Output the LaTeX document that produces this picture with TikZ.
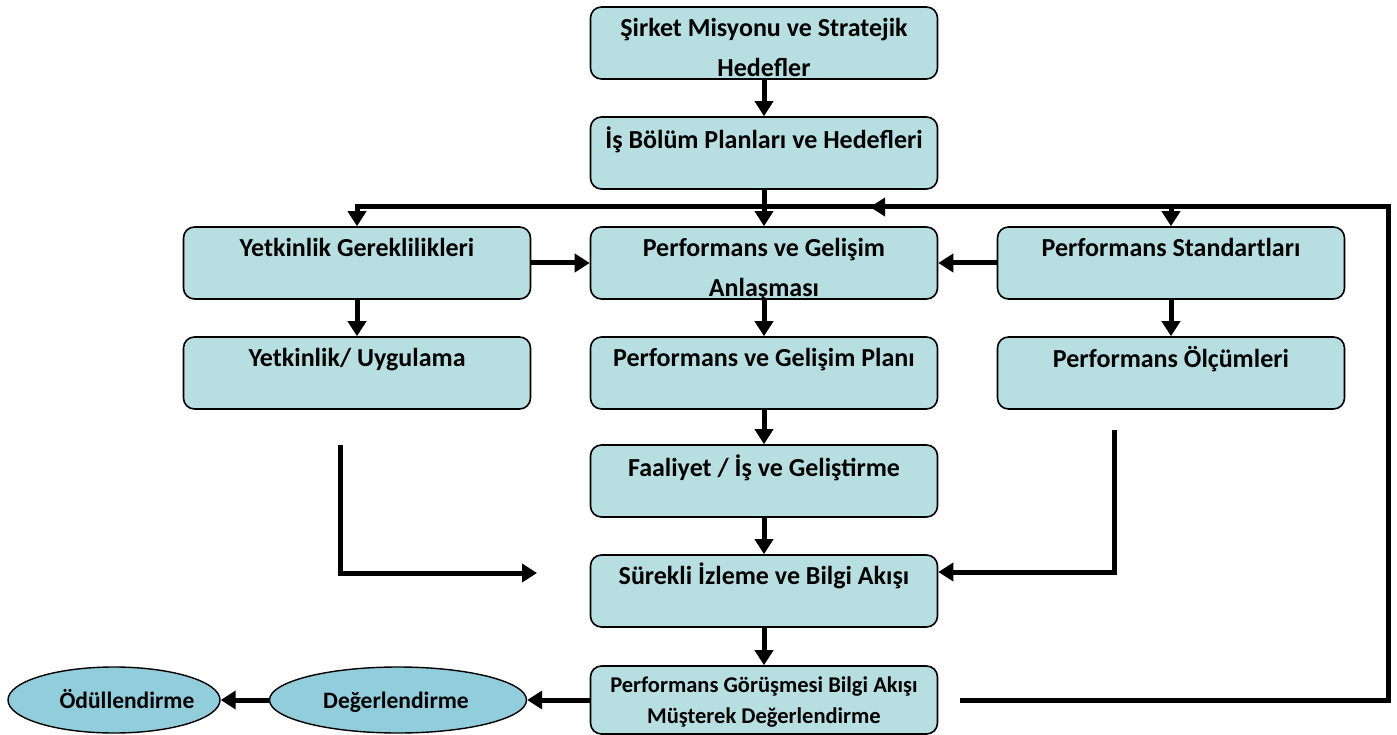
\documentclass[tikz,border=0pt]{standalone}
\usepackage{fontspec}
\setmainfont{Carlito}
\usetikzlibrary{arrows.meta,shapes.geometric,calc}
\definecolor{boxfill}{HTML}{B7DFE2}
\definecolor{ovalfill}{HTML}{92CDDC}
\tikzset{
  box/.style={draw, line width=1.6pt, rounded corners=11pt, fill=boxfill,
    minimum width=347pt, minimum height=72pt, inner sep=0pt},
  oval/.style={draw, line width=1.4pt, ellipse, fill=ovalfill, inner sep=0pt},
  ovaltxt/.style={anchor=base, inner sep=0pt,
    font=\bfseries\fontsize{23.5}{28}\selectfont},
  txt/.style={anchor=north, align=center, inner sep=0pt,
    font=\bfseries\fontsize{26}{40}\selectfont},
  smalltxt/.style={anchor=north, align=center, inner sep=0pt,
    font=\bfseries\fontsize{22.5}{31}\selectfont},
  arr/.style={line width=5pt, -{Triangle[length=15pt,width=18pt]}},
}
\begin{document}
\begin{tikzpicture}[x=1pt, y=-1pt]
\useasboundingbox (0,0) rectangle (1397,735);

% boxes (centres in picture coordinates, y growing downwards)
\node[box] (mission)  at (764,43)  {};
\node[box] (unit)     at (764,153) {};
\node[box] (compreq)  at (357,263) {};
\node[box] (agree)    at (764,263) {};
\node[box] (std)      at (1171,263) {};
\node[box] (compapp)  at (357,373) {};
\node[box] (plan)     at (764,373) {};
\node[box] (measure)  at (1171,373) {};
\node[box] (activity) at (764,481) {};
\node[box] (monitor)  at (764,591) {};
\node[box, minimum height=68pt] (review) at (764,700) {};
\node[oval, minimum width=212pt, minimum height=66pt] (reward) at (114,700) {};
\node[oval, minimum width=257pt, minimum height=66pt] (assess) at (398,700) {};

% oval texts
\node[ovaltxt] (treward) at (127,708) {Ödüllendirme};
\node[ovaltxt] (tassess) at (396,708) {Değerlendirme};

% box texts, set from the top of each box
\node[txt] (tmission)  at ($(mission.north)+(0,12)$)  {Şirket Misyonu ve Stratejik\\Hedefler};
\node[txt] (tunit)     at ($(unit.north)+(0,10)$)     {İş Bölüm Planları ve Hedefleri};
\node[txt] (tcompreq)  at ($(compreq.north)+(0,12)$)  {Yetkinlik Gereklilikleri};
\node[txt] (tagree)    at ($(agree.north)+(0,12)$)    {Performans ve Gelişim\\Anlaşması};
\node[txt] (tstd)      at ($(std.north)+(0,12)$)      {Performans Standartları};
\node[txt] (tcompapp)  at ($(compapp.north)+(0,12)$)  {Yetkinlik/ Uygulama};
\node[txt] (tplan)     at ($(plan.north)+(0,12)$)     {Performans ve Gelişim Planı};
\node[txt] (tmeasure)  at ($(measure.north)+(0,10)$)  {Performans Ölçümleri};
\node[txt] (tactivity) at ($(activity.north)+(0,10)$) {Faaliyet / İş ve Geliştirme};
\node[txt] (tmonitor)  at ($(monitor.north)+(0,8)$)   {Sürekli İzleme ve Bilgi Akışı};
\node[smalltxt] (treview) at ($(review.north)+(0,11)$) {Performans Görüşmesi Bilgi Akışı\\Müşterek Değerlendirme};

% free ends of the connectors
\coordinate (bus)   at (764,207);
\coordinate (fbA)   at (1388,700);
\coordinate (fbB)   at (1388,207);
\coordinate (fbEnd) at (870,207);
\coordinate (lA)    at (340,445);
\coordinate (lB)    at (340,573);
\coordinate (lEnd)  at (537,573);
\coordinate (rA)    at (1114,430);
\coordinate (rB)    at (1114,572);
\coordinate (rEnd)  at ($(monitor.east)+(0,-19)$);

% main column
\draw[arr] (mission) -- (unit);
\draw[arr] (unit) -- (agree);
\draw[arr] (bus) -| (compreq.north);
\draw[arr] (bus) -| (std.north);
\draw[arr] (compreq) -- (agree);
\draw[arr] (std) -- (agree);
\draw[arr] (compreq) -- (compapp);
\draw[arr] (agree) -- (plan);
\draw[arr] (std) -- (measure);
\draw[arr] (plan) -- (activity);
\draw[arr] (activity) -- (monitor);
\draw[arr] (monitor) -- (review);

% side feeds into monitoring
\draw[arr] (lA) -- (lB) -- (lEnd);
\draw[arr] (rA) -- (rB) -- (rEnd);

% feedback loop from the review back to the top
\draw[arr, shorten <=22pt] (review.east) -- (fbA) -- (fbB) -- (fbEnd);

% evaluation and reward
\draw[arr] (review.west) -- (assess.east);
\draw[arr] (assess.west) -- (reward.east);
\end{tikzpicture}
\end{document}
